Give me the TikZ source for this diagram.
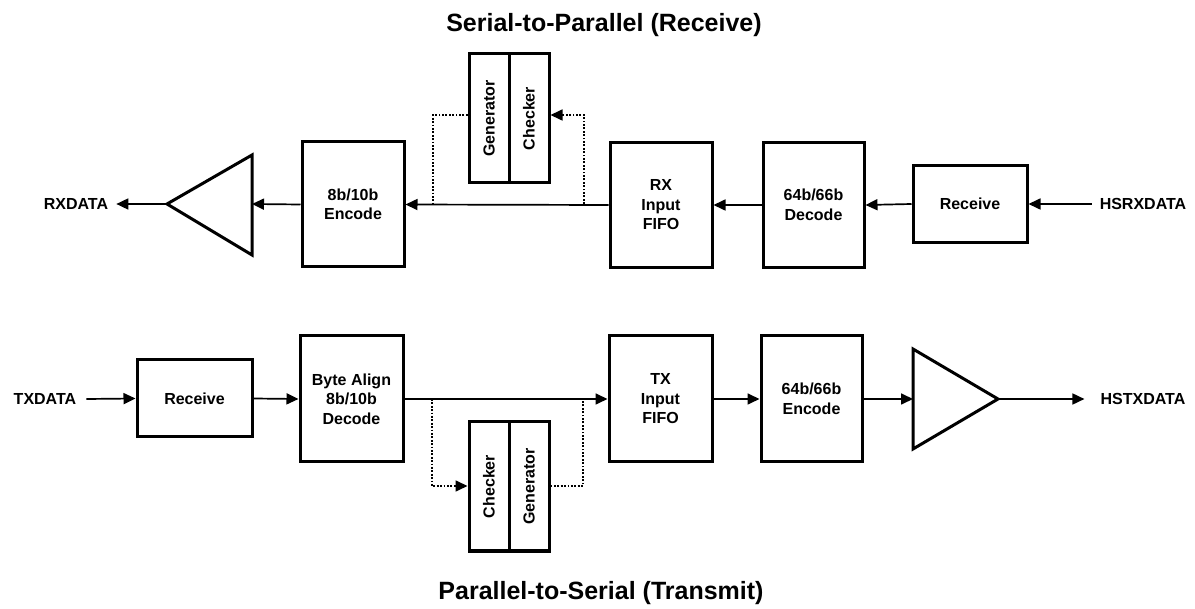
\documentclass[tikz,border=0pt]{standalone}
\usepackage{fontspec}
\setmainfont{Liberation Sans}
\usetikzlibrary{arrows.meta}

\begin{document}
\begin{tikzpicture}[x=1pt,y=-1pt,
  blk/.style={draw, line width=3pt, fill=white, inner sep=0pt,
    font=\bfseries\fontsize{16}{19.5}\selectfont, align=center},
  lbl/.style={inner ysep=2pt, inner xsep=8pt, font=\bfseries\fontsize{16}{19}\selectfont},
  ttl/.style={font=\bfseries\fontsize{25}{29}\selectfont},
  tip/.style={-{Triangle[length=12pt,width=11pt]}},
  conn/.style={line width=1.7pt, tip},
  dots/.style={line width=1.7pt, dash pattern=on 1.8pt off 1.6pt},
  amp/.style={line width=3pt, line join=miter},
]
\useasboundingbox (0,0) rectangle (1195,609);

% ---------- titles ----------
\node[ttl] (ttop) at (604,25) {Serial-to-Parallel (Receive)};
\node[ttl] (tbot) at (601,593) {Parallel-to-Serial (Transmit)};

% ---------- receive path ----------
\node[lbl] (hsrx) at (1143,204) {HSRXDATA};
\node[blk, minimum width=114, minimum height=77] (rrx) at (970,204) {Receive};
\node[blk, minimum width=101, minimum height=125] (dec) at (813.5,205) {64b/66b\\Decode};
\node[blk, minimum width=102, minimum height=125] (rxf) at (661,205) {RX\\Input\\FIFO};
\node[blk, minimum width=102, minimum height=125] (enc) at (353,204.5) {8b/10b\\Encode};
\node[lbl] (rxd) at (76,204) {RXDATA};

\node[blk, minimum width=40, minimum height=129] (gen1) at (489,118.5) {\rotatebox{90}{Generator}};
\node[blk, minimum width=40, minimum height=129] (chk1) at (529,118.5) {\rotatebox{90}{Checker}};

% output amplifier (pointing left)
\coordinate (abase1) at (252,204);
\coordinate (atip1) at (167,204);
\draw[amp] (252,155) -- (252,255) -- (atip1) -- cycle;

\draw[conn] (hsrx.west) -- (rrx.east);
\draw[conn] (rrx.west) -- (dec.east);
\draw[conn] (dec.west) -- (rxf.east);
\draw[conn] (rxf.west) -- (enc.east);
\draw[conn] (enc.west) -- (abase1);
\draw[conn] (atip1) -- (rxd.east);

% loop through checker / generator
\coordinate (rtapR) at (584,204);
\coordinate (rtopR) at (584,115);
\coordinate (rtapL) at (433,204);
\coordinate (rtopL) at (433,115);
\draw[dots, tip] (rtapR) -- (rtopR) -- (chk1.east |- rtopR);
\draw[dots] (gen1.west |- rtopL) -- (rtopL) -- (rtapL);

% ---------- transmit path ----------
\node[lbl, inner xsep=10pt] (txd) at (45,399) {TXDATA};
\node[blk, minimum width=115, minimum height=77] (rtx) at (194.5,398.5) {Receive};
\node[blk, minimum width=103, minimum height=126] (bal) at (351.5,399) {Byte Align\\8b/10b\\Decode};
\node[blk, minimum width=103, minimum height=126] (txf) at (660.5,399) {TX\\Input\\FIFO};
\node[blk, minimum width=101, minimum height=126] (enc2) at (811.5,399) {64b/66b\\Encode};
\node[lbl, inner xsep=16pt] (hstx) at (1143,399) {HSTXDATA};

\node[blk, minimum width=40, minimum height=129] (chk2) at (489,486.5) {\rotatebox{90}{Checker}};
\node[blk, minimum width=40, minimum height=129] (gen2) at (529,486.5) {\rotatebox{90}{Generator}};

% line driver (pointing right)
\coordinate (abase2) at (913,399);
\coordinate (atip2) at (998,399);
\draw[amp] (913,349) -- (913,449) -- (atip2) -- cycle;

\draw[conn] (txd.east) -- (rtx.west);
\draw[conn] (rtx.east) -- (bal.west);
\draw[conn] (bal.east) -- (txf.west);
\draw[conn] (txf.east) -- (enc2.west);
\draw[conn] (enc2.east) -- (abase2);
\draw[conn] (atip2) -- (hstx.west);

\coordinate (ttapL) at (432,399);
\coordinate (tbotL) at (432,486);
\coordinate (ttapR) at (583,399);
\coordinate (tbotR) at (583,486);
\draw[dots, tip] (ttapL) -- (tbotL) -- (chk2.west |- tbotL);
\draw[dots] (gen2.east |- tbotR) -- (tbotR) -- (ttapR);
\end{tikzpicture}
\end{document}
